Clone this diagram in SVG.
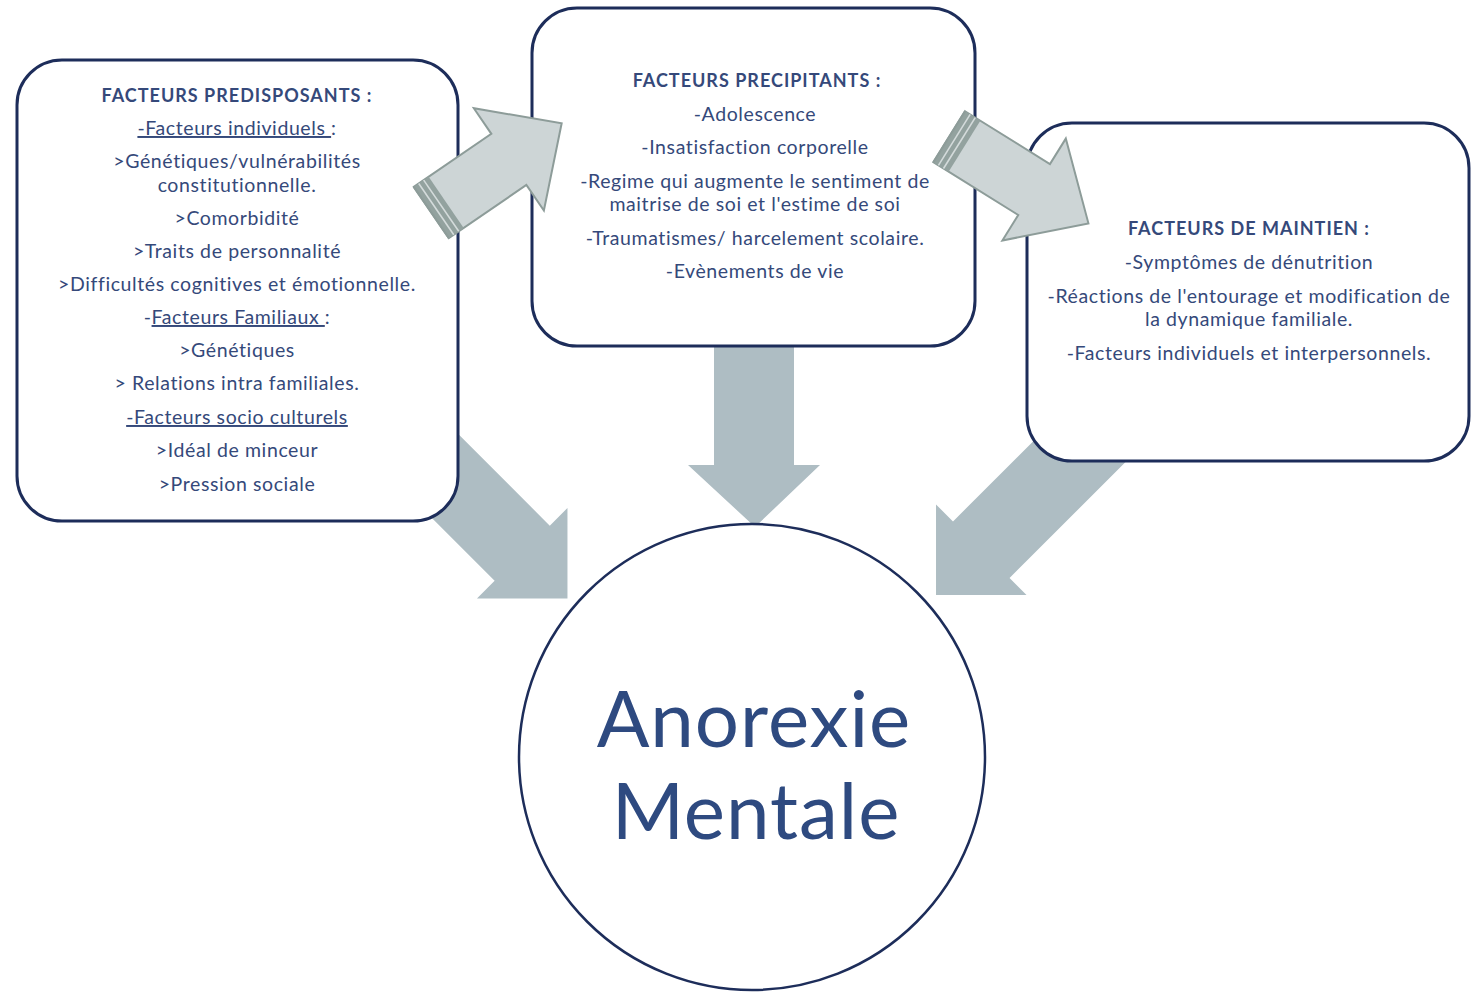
<svg xmlns="http://www.w3.org/2000/svg" width="1481" height="992" viewBox="0 0 1481 992">
<style>
.box{fill:#ffffff;stroke:#1d2d5a;stroke-width:3}
.t{font-family:Lato,"Open Sans",sans-serif;font-size:19.5px;letter-spacing:0.6px;fill:#35497a;text-anchor:middle}
.h{font-weight:bold;font-size:18px;letter-spacing:1px}
.u{text-decoration:underline}
.big{fill:#aebdc3}
.lite{fill:#cdd5d6;stroke:#8d9c99;stroke-width:2;stroke-linejoin:miter}
.band{fill:#93a29f}
.stripe{stroke:#d4dbdb;stroke-width:1.6}
.title{font-family:Lato,"Open Sans",sans-serif;font-size:78px;letter-spacing:1px;fill:#2e4a80;text-anchor:middle}
</style>
<rect width="1481" height="992" fill="#ffffff"/>
<g id="connectors-back">
  <path class="big" transform="translate(411.9,442.9) rotate(45)" d="M0,-39 L156,-39 L156,-64 L220,0 L156,64 L156,39 L0,39 Z"/>
  <path class="big" d="M714,330 L794,330 L794,465 L820,465 L755,527 L688,465 L714,465 Z"/>
  <path class="big" transform="translate(1112.8,418.2) rotate(135)" d="M0,-40 L186,-40 L186,-64 L250,0 L186,64 L186,40 L0,40 Z"/>
</g>
<g id="node-predisposants">
  <rect class="box" x="17" y="60" width="441" height="461" rx="45" ry="45"/>
  <text class="t h" x="237" y="102">FACTEURS PREDISPOSANTS :</text>
  <text class="t" x="237" y="135"><tspan class="u">-Facteurs individuels </tspan>:</text>
  <text class="t" x="237" y="168">&gt;Génétiques/vulnérabilités</text>
  <text class="t" x="237" y="192">constitutionnelle.</text>
  <text class="t" x="237" y="225">&gt;Comorbidité</text>
  <text class="t" x="237" y="258">&gt;Traits de personnalité</text>
  <text class="t" x="237" y="291">&gt;Difficultés cognitives et émotionnelle.</text>
  <text class="t" x="237" y="324">-<tspan class="u">Facteurs Familiaux </tspan>:</text>
  <text class="t" x="237" y="357">&gt;Génétiques</text>
  <text class="t" x="237" y="390">&gt; Relations intra familiales.</text>
  <text class="t" x="237" y="424"><tspan class="u">-Facteurs socio culturels</tspan></text>
  <text class="t" x="237" y="457">&gt;Idéal de minceur</text>
  <text class="t" x="237" y="491">&gt;Pression sociale</text>
</g>
<g id="node-precipitants">
  <rect class="box" x="532" y="8" width="443" height="338" rx="45" ry="45"/>
  <text class="t h" x="757" y="87">FACTEURS PRECIPITANTS :</text>
  <text class="t" x="755" y="121">-Adolescence</text>
  <text class="t" x="755" y="154">-Insatisfaction corporelle</text>
  <text class="t" x="755" y="188">-Regime qui augmente le sentiment de</text>
  <text class="t" x="755" y="211">maitrise de soi et l'estime de soi</text>
  <text class="t" x="755" y="245">-Traumatismes/ harcelement scolaire.</text>
  <text class="t" x="755" y="278">-Evènements de vie</text>
</g>
<g id="node-maintien">
  <rect class="box" x="1027" y="123" width="442" height="338" rx="45" ry="45"/>
  <text class="t h" x="1249" y="235">FACTEURS DE MAINTIEN :</text>
  <text class="t" x="1249" y="269">-Symptômes de dénutrition</text>
  <text class="t" x="1249" y="303">-Réactions de l'entourage et modification de</text>
  <text class="t" x="1249" y="326">la dynamique familiale.</text>
  <text class="t" x="1249" y="360">-Facteurs individuels et interpersonnels.</text>
</g>
<g id="connectors-front">
  <g transform="translate(431.3,212.5) rotate(-34.4)">
    <path class="lite" d="M0,-31 L94,-31 L94,-62 L158,0 L94,62 L94,31 L0,31 Z"/>
    <rect class="band" x="0" y="-31" width="18" height="62"/>
    <line class="stripe" x1="6" y1="-31" x2="6" y2="31"/>
    <line class="stripe" x1="12" y1="-31" x2="12" y2="31"/>
    <path d="M0,-31 L0,31" stroke="#8d9c99" stroke-width="2"/>
  </g>
  <g transform="translate(949.2,136.7) rotate(31.9)">
    <path class="lite" d="M0,-30 L100,-30 L100,-60 L164,0 L100,60 L100,30 L0,30 Z"/>
    <rect class="band" x="0" y="-30" width="18" height="60"/>
    <line class="stripe" x1="6" y1="-30" x2="6" y2="30"/>
    <line class="stripe" x1="12" y1="-30" x2="12" y2="30"/>
    <path d="M0,-30 L0,30" stroke="#8d9c99" stroke-width="2"/>
  </g>
</g>
<g id="node-anorexie">
  <circle cx="752" cy="757" r="233" fill="#ffffff" stroke="#1d2d5a" stroke-width="2.5"/>
  <text class="title" x="754" y="747">Anorexie</text>
  <text class="title" x="756" y="839">Mentale</text>
</g>
</svg>
